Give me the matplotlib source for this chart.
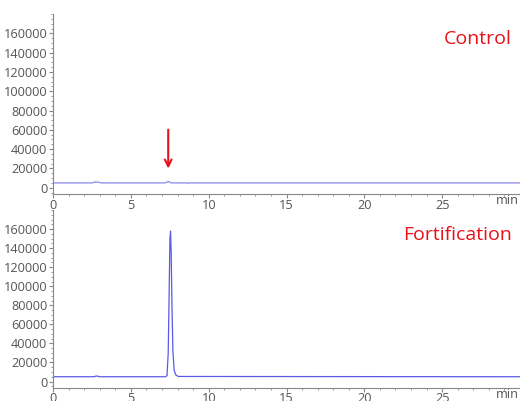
import matplotlib
matplotlib.use('Agg')
import matplotlib.pyplot as plt
from matplotlib.ticker import MultipleLocator

# Chromatogram data (time in min, intensity)
control_time = [0, 2.5, 2.7, 2.9, 3.1, 7.2, 7.4, 7.6, 8.6, 8.7, 8.8, 30]
control_signal = [5000, 5000, 6000, 5800, 5000, 5000, 6500, 5000, 5000, 4600, 5000, 5000]

fort_time = [0, 2.6, 2.8, 3.0, 7.2, 7.32, 7.40, 7.46, 7.51, 7.55, 7.59, 7.64, 7.70, 7.78, 7.88, 8.05, 30]
fort_signal = [5000, 5000, 5800, 5000, 5000, 6000, 30000, 95000, 150000, 158000, 135000, 80000, 32000, 12000, 7000, 5300, 5000]

x_ticks = [0, 5, 10, 15, 20, 25]
y_ticks = [0, 20000, 40000, 60000, 80000, 100000, 120000, 140000, 160000]

arrow_x = 7.4
arrow_top, arrow_bottom = 63000, 17000

plt.rcParams['font.family'] = ['Open Sans', 'DejaVu Sans']

fig = plt.figure(figsize=(5.2, 4.01), dpi=100)
ax_top = fig.add_axes([0.102, 0.515, 0.898, 0.45])
ax_bot = fig.add_axes([0.102, 0.032, 0.898, 0.444])

line_color = '#5a5ae6'
tick_color = '#555555'


def style_axis(ax):
    ax.set_xlim(0, 30)
    ax.set_ylim(-7000, 180000)
    for side in ['top', 'right']:
        ax.spines[side].set_visible(False)
    for side in ['left', 'bottom']:
        ax.spines[side].set_color('#888888')
        ax.spines[side].set_linewidth(0.8)
    ax.set_xticks(x_ticks)
    ax.set_yticks(y_ticks)
    ax.xaxis.set_minor_locator(MultipleLocator(1))
    ax.yaxis.set_minor_locator(MultipleLocator(5000))
    ax.tick_params(axis='both', which='major', length=3, width=0.8, color='#888888',
                   labelsize=9.2, labelcolor=tick_color, pad=1)
    ax.tick_params(axis='x', which='major', pad=0)
    ax.tick_params(axis='both', which='minor', length=1.5, width=0.6, color='#888888')
    ax.text(29.2, -7000, 'min', ha='center', va='top', fontsize=9.2, color=tick_color)
    ax.patch.set_alpha(0)


style_axis(ax_top)
style_axis(ax_bot)

ax_top.plot(control_time, control_signal, color='#8a8af0', lw=0.9)
ax_bot.plot(fort_time, fort_signal, color=line_color, lw=0.9)

ax_top.annotate('', xy=(arrow_x, arrow_bottom), xytext=(arrow_x, arrow_top),
                arrowprops=dict(arrowstyle='->', color='#e8101a', lw=1.5,
                                mutation_scale=12))

ax_top.text(0.983, 0.86, 'Control', transform=ax_top.transAxes, ha='right',
            va='center', fontsize=14, color='#e8101a', fontweight='medium')
ax_bot.text(0.983, 0.86, 'Fortification', transform=ax_bot.transAxes, ha='right',
            va='center', fontsize=14, color='#e8101a', fontweight='medium')

fig.savefig('out.png', dpi=100)
